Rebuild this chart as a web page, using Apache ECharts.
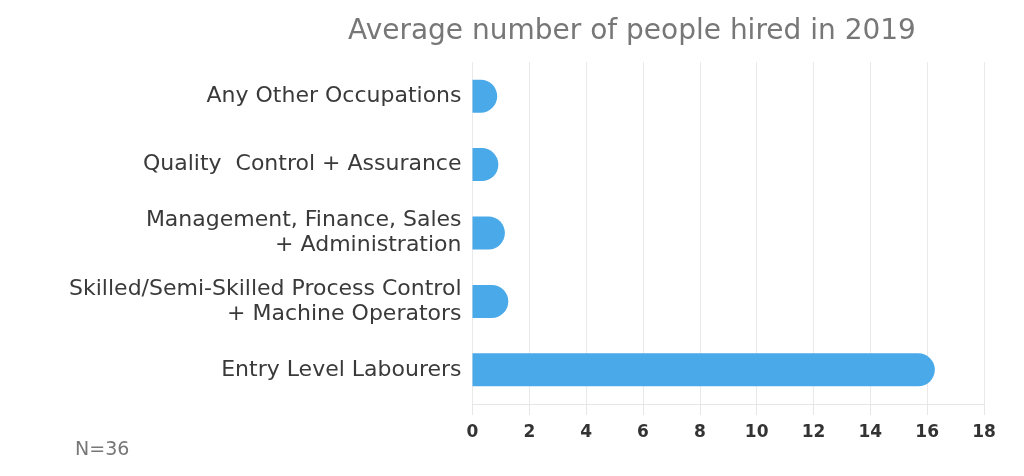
<!DOCTYPE html>
<html><head><meta charset="utf-8">
<script src="https://cdn.jsdelivr.net/npm/echarts@6/dist/echarts.min.js"></script>
<style>html,body{margin:0;padding:0;background:#fff}#c{width:1024px;height:476px}</style>
</head><body><div id="c"></div>
<script>
const categories = [
  "Entry Level Labourers",
  "Skilled/Semi-Skilled Process Control\n+ Machine Operators",
  "Management, Finance, Sales\n+ Administration",
  "Quality  Control + Assurance",
  "Any Other Occupations"
];
const values = [16.27, 1.26, 1.14, 0.91, 0.87];
const xTicks = [0, 2, 4, 6, 8, 10, 12, 14, 16, 18];
const titleText = "Average number of people hired in 2019";
const noteText = "N=36";

const FONT = '"DejaVu Sans", sans-serif';
const chart = echarts.init(document.getElementById('c'));
chart.setOption({
  animation: false,
  textStyle: { fontFamily: FONT },
  title: [{
    text: titleText, left: 627, top: 13, textAlign: 'center',
    textStyle: { fontSize: 28, fontWeight: 'normal', color: '#777', fontFamily: FONT }
  }, {
    text: noteText, left: 70, top: 436,
    textStyle: { fontSize: 19, fontWeight: 'normal', color: '#777', fontFamily: FONT }
  }],
  grid: { left: 472.5, right: 40, top: 62, bottom: 72, containLabel: false },
  xAxis: {
    type: 'value', min: xTicks[0], max: xTicks[xTicks.length - 1], interval: 2,
    axisLine: { show: true, lineStyle: { color: '#e6e6e6', width: 1 } },
    axisTick: { show: true, length: 11, lineStyle: { color: '#e6e6e6' } },
    splitLine: { show: true, lineStyle: { color: '#e9e9e9', width: 1 } },
    axisLabel: { margin: 20, fontSize: 17, fontWeight: 'bold', color: '#333', fontFamily: FONT }
  },
  yAxis: {
    type: 'category', data: categories,
    axisLine: { show: false }, axisTick: { show: false },
    axisLabel: { margin: 11, fontSize: 22, color: '#3a3a3a', lineHeight: 25, align: 'right', fontFamily: FONT }
  },
  series: [{
    type: 'bar', data: values, barWidth: 33,
    itemStyle: { color: '#4aa9e9', borderRadius: [0, 16.5, 16.5, 0] }
  }]
});
</script></body></html>
